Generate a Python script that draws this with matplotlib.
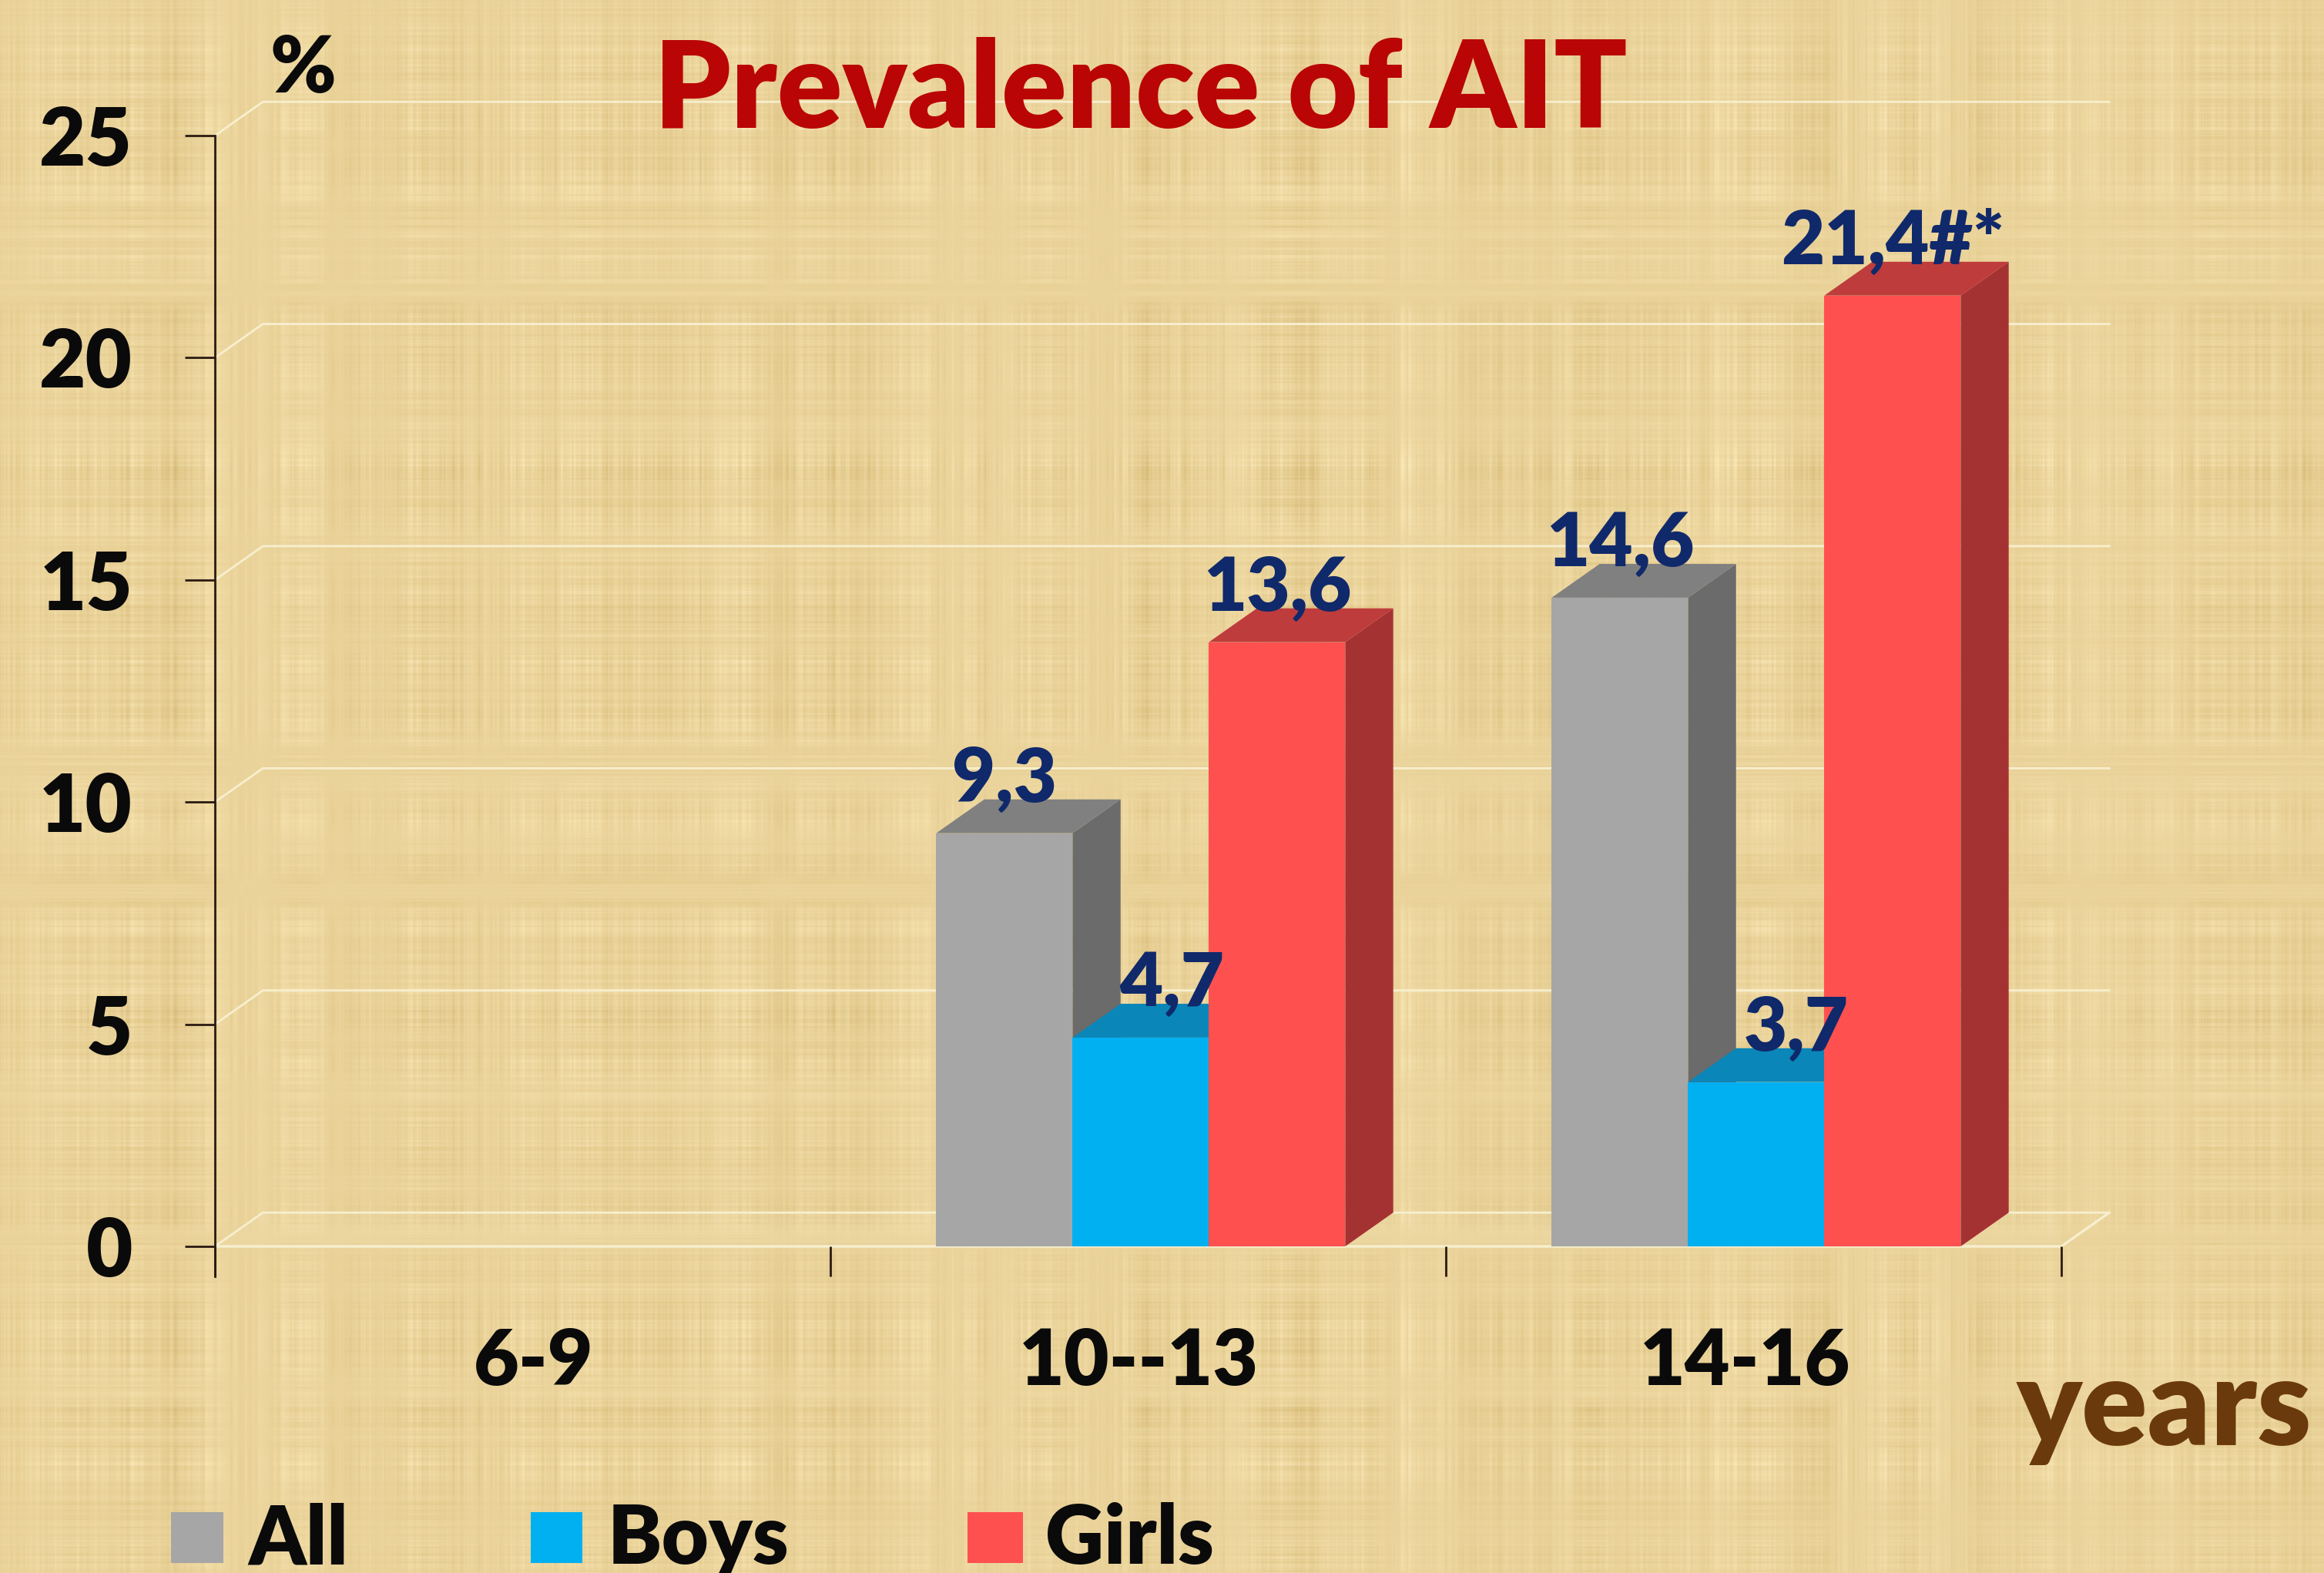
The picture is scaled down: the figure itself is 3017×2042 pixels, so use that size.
import numpy as np
import matplotlib
matplotlib.use('Agg')
import matplotlib.pyplot as plt
from matplotlib.patches import Polygon, Rectangle

# chart values
age_groups = ['6-9', '10--13', '14-16']
series_names = ['All', 'Boys', 'Girls']
all_values = [None, 9.3, 14.6]
boys_values = [None, 4.7, 3.7]
girls_values = [None, 13.6, 21.4]
all_labels = ['', '9,3', '14,6']
boys_labels = ['', '4,7', '3,7']
girls_labels = ['', '13,6', '21,4#*']
y_ticks = [0, 5, 10, 15, 20, 25]

WIDTH = 3017
HEIGHT = 2042

plt.rcParams['font.family'] = ['Lato', 'DejaVu Sans']
plt.rcParams['font.weight'] = 'bold'


def fx(px):
    return px / WIDTH


def fy(py):
    return 1 - py / HEIGHT


def streaks(n, freqs):
    """
    sum of sines, gives an uneven thread pattern along one direction
    """
    pos = np.arange(n)
    out = np.zeros(n)
    for i, f in enumerate(freqs):
        out += np.sin(pos * f + 1.7 * i + 1.3 * np.sin(pos * f * 0.37 + i))
    return out / len(freqs) ** 0.5


def paper_texture():
    """
    linen look of the slide background, threads fade in and out along their length
    """
    v_fine = streaks(WIDTH, [0.19, 0.37, 0.61, 0.83, 1.13])
    h_fine = streaks(HEIGHT, [0.23, 0.41, 0.67, 0.91, 1.21])
    v_wide = streaks(WIDTH, [0.021, 0.047, 0.089])
    h_wide = streaks(HEIGHT, [0.027, 0.053, 0.097])
    fade_y = 0.6 + 0.4 * streaks(HEIGHT, [0.011, 0.029, 0.071])
    fade_x = 0.6 + 0.4 * streaks(WIDTH, [0.009, 0.033, 0.063])
    shade = (np.outer(fade_y, v_fine) * 4.6 + np.outer(h_fine, fade_x) * 3.6
             + np.outer(fade_y, v_wide) * 4.2 + np.outer(h_wide, fade_x) * 2.4)
    base = np.array([235.0, 212.0, 155.0])
    amount = np.array([0.9, 1.15, 1.6])
    img = base[None, None, :] + shade[:, :, None] * amount[None, None, :]
    return np.clip(img, 0, 255).astype(np.uint8)


def draw_bar(ax, left, value, width, depth_x, depth_y, colors):
    """
    front with ax.bar, then top and side faces as polygons
    """
    front, top, side = colors
    right = left + width
    ax.add_patch(Polygon([(right, 0), (right + depth_x, depth_y),
                          (right + depth_x, value + depth_y), (right, value)],
                         facecolor=side, edgecolor='none', zorder=3, clip_on=False))
    ax.add_patch(Polygon([(left, value), (right, value),
                          (right + depth_x, value + depth_y), (left + depth_x, value + depth_y)],
                         facecolor=top, edgecolor='none', zorder=3, clip_on=False))
    ax.bar(left, value, width=width, align='edge', color=front, zorder=3)


fig = plt.figure(figsize=(WIDTH / 100, HEIGHT / 100), dpi=100)

bg = fig.add_axes([0, 0, 1, 1], zorder=0)
bg.imshow(paper_texture(), aspect='auto', interpolation='bilinear')
bg.axis('off')

ax = fig.add_axes([fx(279), fy(1618), fx(2676 - 279), (1618 - 176) / HEIGHT], zorder=1)
ax.patch.set_alpha(0)
ax.set_xlim(0, 3)
ax.set_ylim(0, 25)
for name in ['top', 'right', 'bottom']:
    ax.spines[name].set_visible(False)
ax.spines['left'].set_color('#2B1A12')
ax.spines['left'].set_linewidth(2.0)
ax.spines['left'].set_bounds(-0.68, 25)

ax.set_yticks(y_ticks)
ax.set_xticks(range(len(age_groups) + 1))
ax.set_xticklabels([])
ax.tick_params(axis='y', length=28, width=2.0, color='#2B1A12', pad=49,
               labelsize=75, labelcolor='#0A0A0A')
ax.tick_params(axis='x', length=28, width=2.0, color='#2B1A12')
for lab in ax.get_yticklabels():
    lab.set_fontweight('heavy')

# depth of the fake 3d box, in data units
depth_x = 0.078
depth_y = 0.76
grid_right = 3.0 + depth_x
grid_col = '#F7EFCF'

for t in y_ticks:
    ax.plot([0, depth_x, grid_right], [t, t + depth_y, t + depth_y], color=grid_col,
            lw=2.0, zorder=1, clip_on=False)
ax.plot([0, 3.0, grid_right], [0, 0, depth_y], color=grid_col, lw=2.4, zorder=1, clip_on=False)
ax.add_patch(Polygon([(0, 0), (depth_x, depth_y), (grid_right, depth_y), (3.0, 0)],
                     facecolor='#F7EFCF', alpha=0.12, edgecolor='none', zorder=1))

bar_w = 0.2215
group_start = 0.172
palette = {
    'All': ('#A6A6A6', '#808080', '#6B6B6B'),
    'Boys': ('#00B0F0', '#0A86B8', '#0A86B8'),
    'Girls': ('#FF5050', '#BF3C3C', '#A53232'),
}
series_values = [all_values, boys_values, girls_values]
series_labels = [all_labels, boys_labels, girls_labels]
label_shift = [0, 40, 0]

for s, name in enumerate(series_names):
    for g, val in enumerate(series_values[s]):
        if val is None:
            continue
        left = g + group_start + s * bar_w
        draw_bar(ax, left, val, bar_w, depth_x, depth_y, palette[name])
        shift = label_shift[s]
        if series_labels[s][g] == '3,7':
            shift = 52
        ax.annotate(series_labels[s][g], xy=(left + bar_w / 2, val), xytext=(shift * 0.72, 50),
                    textcoords='offset points', ha='center', va='center', fontsize=70,
                    fontweight='heavy', color='#10296B', zorder=5, annotation_clip=False)

# category names
for name, px in zip(age_groups, [693, 1478, 2266]):
    fig.text(fx(px), fy(1769), name, ha='center', va='center', fontsize=73, fontweight='heavy',
             color='#0A0A0A', zorder=3)

fig.text(fx(1481), fy(166), 'Prevalence of AIT', ha='center', va='baseline', fontsize=113,
         fontweight='heavy', color='#B90505', zorder=3)
fig.text(fx(393), fy(90), '%', ha='center', va='center', fontsize=74, fontweight='heavy',
         color='#0A0A0A', zorder=3)
fig.text(fx(3001), fy(1876), 'years', ha='right', va='baseline', fontsize=114, fontweight='heavy',
         color='#6B3A0C', zorder=3)

# legend along the bottom edge
legend_box = [(222, 290), (689, 756), (1256, 1328)]
legend_text = [322, 789, 1357]
legend_cols = [palette[n][0] for n in series_names]
for name, box, tx, col in zip(series_names, legend_box, legend_text, legend_cols):
    fig.add_artist(Rectangle((fx(box[0]), fy(2029)), fx(box[1] - box[0]), 66 / HEIGHT,
                             transform=fig.transFigure, facecolor=col, edgecolor='none', zorder=3))
    fig.text(fx(tx), fy(2030), name, ha='left', va='baseline', fontsize=76, fontweight='heavy',
             color='#0A0A0A', zorder=3)

fig.savefig('out.png', dpi=100)
